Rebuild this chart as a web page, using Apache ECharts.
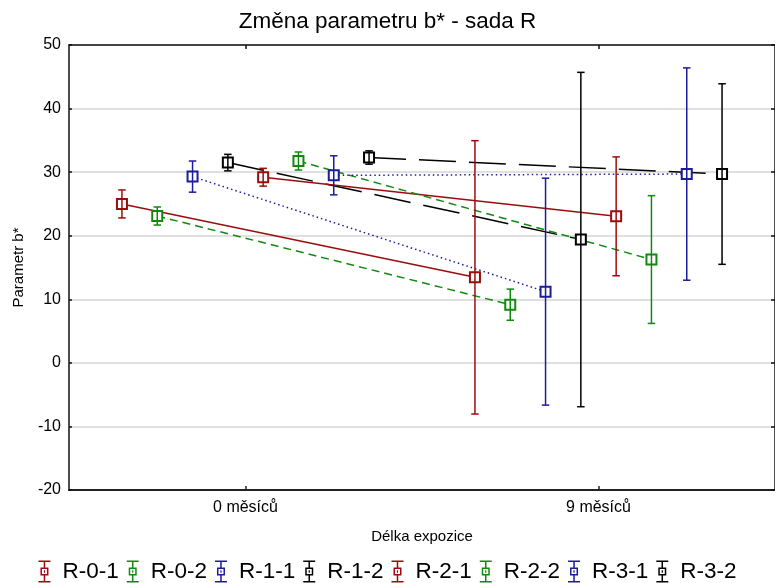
<!DOCTYPE html>
<html>
<head>
<meta charset="utf-8">
<script src="https://cdn.jsdelivr.net/npm/echarts@6/dist/echarts.min.js"></script>
<style>
  html, body { margin: 0; padding: 0; background: #fff; }
  #chart { width: 775px; height: 583px; }
</style>
</head>
<body>
<div id="chart"></div>
<script>
// Exposure lengths (x categories)
const categories = ['0 měsíců', '9 měsíců'];
// Sample sets
const seriesNames = ['R-0-1', 'R-0-2', 'R-1-1', 'R-1-2', 'R-2-1', 'R-2-2', 'R-3-1', 'R-3-2'];
// Mean b* after 0 months and after 9 months
const mean0 = [25.0, 23.1, 29.3, 31.5, 29.2, 31.75, 29.5, 32.3];
const mean9 = [13.45, 9.15, 11.2, 19.4, 23.05, 16.25, 29.7, 29.7];
// Half-width of the error bars
const err0 = [2.2, 1.42, 2.45, 1.3, 1.4, 1.42, 3.07, 1.05];
const err9 = [21.5, 2.45, 17.85, 26.3, 9.35, 10.05, 16.7, 14.2];
// Y axis ticks
const yMin = -20, yMax = 50, yStep = 10;

const FONT = 'Liberation Sans, Arial, sans-serif';
const colors = ['#9b0d0d', '#0f8a0f', '#1c1c9c', '#000000', '#9b0d0d', '#0f8a0f', '#1c1c9c', '#000000'];
const dashes = ['solid', [8, 5], [1.5, 3], [37, 13], 'solid', [8, 5], [1.5, 3], [37, 13]];

// Glyph for the legend: error bar with a small open square in the middle
const legendIcon = 'path://' +
  'M0 0H12V1.5H0Z M0 20.5H12V22H0Z ' +
  'M5.25 1.5H6.75V7H5.25Z M5.25 15H6.75V20.5H5.25Z ' +
  'M2 7H10V15H2Z M3.5 8.5V13.5H8.5V8.5Z ' +
  'M5.4 9.8H6.6V12.2H5.4Z';

const nSeries = seriesNames.length;
const slot = 0.1; // horizontal spacing between sets inside one category
function xPos(catIdx, i) {
  return catIdx + 0.5 + (i - (nSeries - 1) / 2) * slot;
}

const series = [];
seriesNames.forEach((name, i) => {
  series.push({
    name: name,
    type: 'line',
    xAxisIndex: 2,
    yAxisIndex: 0,
    data: [[xPos(0, i), mean0[i]], [xPos(1, i), mean9[i]]],
    symbol: 'emptyRect',
    symbolSize: 10,
    showSymbol: true,
    color: colors[i],
    itemStyle: { color: colors[i], borderWidth: 1.5 },
    lineStyle: { color: colors[i], width: 1.5, type: dashes[i] },
    emphasis: { disabled: true },
    z: 3
  });
  series.push({
    name: name,
    type: 'custom',
    xAxisIndex: 2,
    yAxisIndex: 0,
    data: [
      [xPos(0, i), mean0[i] - err0[i], mean0[i] + err0[i]],
      [xPos(1, i), mean9[i] - err9[i], mean9[i] + err9[i]]
    ],
    encode: { x: 0, y: [1, 2] },
    renderItem: function (params, api) {
      const x = api.value(0);
      const lo = api.coord([x, api.value(1)]);
      const hi = api.coord([x, api.value(2)]);
      const cap = 3.75;
      const st = { stroke: colors[i], lineWidth: 1.5 };
      return {
        type: 'group',
        children: [
          { type: 'line', shape: { x1: lo[0], y1: lo[1], x2: hi[0], y2: hi[1] }, style: st },
          { type: 'line', shape: { x1: hi[0] - cap, y1: hi[1], x2: hi[0] + cap, y2: hi[1] }, style: st },
          { type: 'line', shape: { x1: lo[0] - cap, y1: lo[1], x2: lo[0] + cap, y2: lo[1] }, style: st }
        ]
      };
    },
    z: 4
  });
});

const chart = echarts.init(document.getElementById('chart'), null, { renderer: 'canvas' });
chart.setOption({
  backgroundColor: '#fff',
  animation: false,
  textStyle: { fontFamily: FONT, color: '#000' },
  title: {
    text: 'Změna parametru b* - sada R',
    left: 'center',
    top: 5,
    textStyle: { fontFamily: FONT, fontSize: 22.5, fontWeight: 'normal', color: '#000' }
  },
  legend: {
    data: seriesNames.map((n, i) => ({
      name: n,
      icon: legendIcon,
      itemStyle: { color: colors[i], borderWidth: 0 }
    })),
    left: 'center',
    top: 555,
    itemWidth: 26,
    itemHeight: 22,
    itemGap: 8,
    selectedMode: false,
    textStyle: { fontFamily: FONT, fontSize: 22.5, color: '#000' }
  },
  grid: { left: 69, right: -4, top: 45, bottom: 93, containLabel: false },
  xAxis: [
    {
      type: 'category',
      position: 'bottom',
      data: categories,
      boundaryGap: true,
      axisLine: { show: true, onZero: false, lineStyle: { color: '#222', width: 2 } },
      axisTick: { show: true, inside: true, alignWithLabel: true, length: 4, lineStyle: { color: '#222', width: 1.5 } },
      axisLabel: { fontFamily: FONT, fontSize: 16, color: '#000', margin: 10 },
      splitLine: { show: false },
      name: 'Délka expozice',
      nameLocation: 'middle',
      nameGap: 39,
      nameTextStyle: { fontFamily: FONT, fontSize: 15, color: '#000' }
    },
    {
      type: 'category',
      position: 'top',
      data: categories,
      boundaryGap: true,
      axisLine: { show: true, onZero: false, lineStyle: { color: '#111', width: 1.5 } },
      axisTick: { show: true, inside: true, alignWithLabel: true, length: 4, lineStyle: { color: '#111', width: 1.5 } },
      axisLabel: { show: false },
      splitLine: { show: false }
    },
    {
      type: 'value',
      min: 0,
      max: categories.length,
      show: false,
      splitLine: { show: false }
    }
  ],
  yAxis: [
    {
      type: 'value',
      position: 'left',
      min: yMin,
      max: yMax,
      interval: yStep,
      axisLine: { show: true, onZero: false, lineStyle: { color: '#111', width: 1.5 } },
      axisTick: { show: true, inside: true, length: 3, lineStyle: { color: '#111', width: 1.5 } },
      axisLabel: { fontFamily: FONT, fontSize: 16, color: '#000', margin: 8 },
      splitLine: { show: true, lineStyle: { color: '#d6d6d6', width: 1.5 } },
      name: 'Parametr b*',
      nameLocation: 'middle',
      nameGap: 43,
      nameTextStyle: { fontFamily: FONT, fontSize: 15, color: '#000' }
    },
    {
      type: 'value',
      position: 'right',
      min: yMin,
      max: yMax,
      interval: yStep,
      axisLine: { show: true, onZero: false, lineStyle: { color: '#111', width: 1.5 } },
      axisTick: { show: true, inside: true, length: 4, lineStyle: { color: '#111', width: 1.5 } },
      axisLabel: { show: false },
      splitLine: { show: false }
    }
  ],
  series: series
});
</script>
</body>
</html>
